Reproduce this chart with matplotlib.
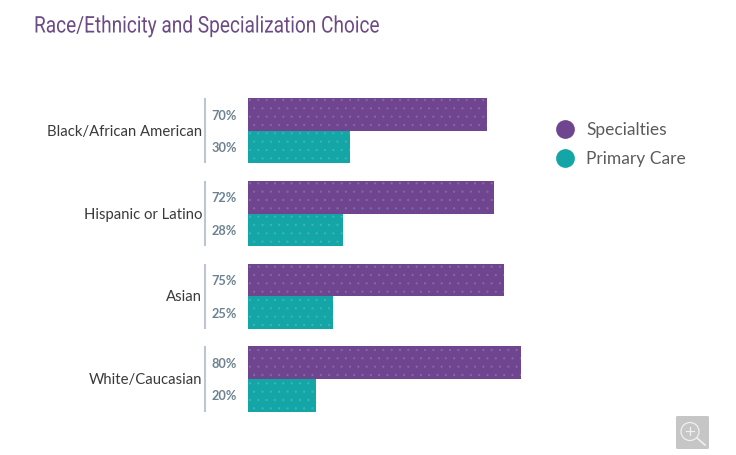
import matplotlib
matplotlib.use("Agg")
import matplotlib.pyplot as plt
from matplotlib.patches import FancyBboxPatch, Circle
from matplotlib.lines import Line2D
from matplotlib.patheffects import AbstractPathEffect
from matplotlib.transforms import Affine2D
import numpy as np

categories = ["Black/African American", "Hispanic or Latino", "Asian", "White/Caucasian"]
specialties = [70, 72, 75, 80]
primary_care = [30, 28, 25, 20]
series_names = ["Specialties", "Primary Care"]
title = "Race/Ethnicity and Specialization Choice"

PURPLE = "#6f4590"
TEAL = "#14a5a6"
W, H = 736, 456
plt.rcParams["hatch.linewidth"] = 0.4
plt.rcParams["font.family"] = ["Lato", "DejaVu Sans"]


class Condense(AbstractPathEffect):
    """Narrow the glyphs horizontally; the text stays a real text object."""
    def __init__(self, sx):
        super().__init__()
        self.sx = sx

    def draw_path(self, renderer, gc, tpath, affine, rgbFace=None):
        renderer.draw_path(gc, tpath, Affine2D().scale(self.sx, 1) + affine, rgbFace)


fig = plt.figure(figsize=(W / 100, H / 100), dpi=100, facecolor="white")
ax = fig.add_axes([248 / W, 1 - 421.2 / H, 341 / W, 330.7 / H])
ax.set_xlim(0, 100)
ax.set_ylim(3.5, -0.5)
ax.axis("off")

y = np.arange(len(categories))
bh = 0.395
hatch_col = (1, 1, 1, 0.14)
ax.barh(y - bh / 2, specialties, height=bh, color=PURPLE, hatch="..", edgecolor=hatch_col, linewidth=0)
ax.barh(y + bh / 2, primary_care, height=bh, color=TEAL, hatch="..", edgecolor=hatch_col, linewidth=0)

for i, cat in enumerate(categories):
    ax.annotate(cat, (0, i), xytext=(-46, 0), textcoords="offset pixels", ha="right", va="center",
                fontsize=10.75, color="#3a3a3a", annotation_clip=False)
    ax.plot([-12.5, -12.5], [i - bh, i + bh], color="#bcc6cf", lw=1.5, clip_on=False, solid_capstyle="butt")
    for val, yy in ((specialties[i], i - bh / 2), (primary_care[i], i + bh / 2)):
        ax.annotate(f"{val}%", (0, yy), xytext=(-11, 0), textcoords="offset pixels", ha="right",
                    va="center", fontsize=9.2, fontweight="bold", color="#6d8290", annotation_clip=False)

fig.text(34 / W, 1 - 27 / H, title, fontsize=16.5, color="#6b4a85", va="center", ha="left",
         family=["Roboto"], path_effects=[Condense(0.832)])

# legend
for name, col, py in zip(series_names, [PURPLE, TEAL], [130, 159]):
    fig.add_artist(Line2D([565 / W], [1 - py / H], marker="o", markersize=13.5, color=col, linestyle="none",
                          markeredgewidth=0, transform=fig.transFigure))
    fig.text(586 / W, 1 - py / H, name, fontsize=12.5, color="#5c5c5c", va="center", ha="left")

# zoom button
over = fig.add_axes([0, 0, 1, 1], facecolor="none")
over.set_xlim(0, W)
over.set_ylim(H, 0)
over.axis("off")
over.add_patch(FancyBboxPatch((676, 417), 33, 33, boxstyle="round,pad=0,rounding_size=1.5", fc="#c6c6c6", ec="none"))
over.add_patch(Circle((690, 432.5), 9, fc="none", ec="#f0f0f0", lw=0.9))
over.plot([697, 705], [439, 446], color="#f0f0f0", lw=1.2)
over.plot([686, 694], [432.5, 432.5], color="#f0f0f0", lw=0.9)
over.plot([690, 690], [428.5, 436.5], color="#f0f0f0", lw=0.9)

fig.savefig("out.png", dpi=100, facecolor="white")
